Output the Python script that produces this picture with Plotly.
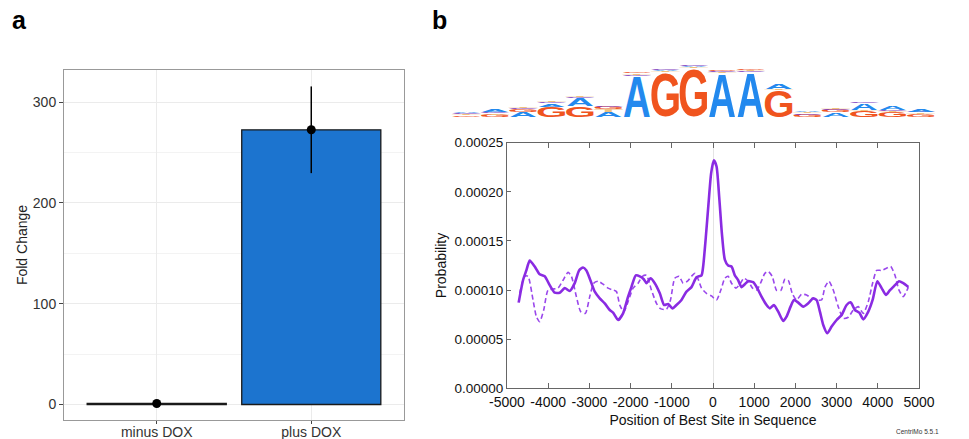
import json
import plotly.graph_objects as go

# ---------------- Panel a data ----------------
conditions = ["minus DOX", "plus DOX"]
fold_change = [1.0, 272.5]
fold_change_err = [0.4, 43.0]
a_yticks = [0, 100, 200, 300]
a_yminor = [50, 150, 250]

# ---------------- Panel b data ----------------
solid_pos = [-4717, -4611, -4530, -4449, -4328, -4206, -4085, -3964, -3842, -3721, -3599, -3478,
             -3356, -3251, -3154, -3073, -2976, -2870, -2749, -2628, -2506, -2425, -2304, -2182,
             -2061, -1980, -1874, -1777, -1680, -1615, -1518, -1413, -1291, -1186, -1089, -984,
             -887, -765, -644, -522, -401, -279, -239, -174, -109, -45, 20, 85, 150, 215, 287,
             368, 449, 530, 611, 692, 773, 854, 976, 1073, 1178, 1300, 1381, 1478, 1583, 1704,
             1785, 1883, 1964, 2069, 2190, 2312, 2433, 2514, 2595, 2676, 2773, 2879, 3000, 3121,
             3243, 3340, 3445, 3551, 3648, 3769, 3874, 3988, 4093, 4198, 4296, 4417, 4514, 4619,
             4741]
solid_prob = [0.0000872, 0.000110, 0.000120, 0.000130, 0.000124, 0.000116, 0.000114, 0.000105,
              0.0000973, 0.0000973, 0.000102, 0.0000990, 0.000107, 0.000120, 0.000123, 0.000120,
              0.000110, 0.0000984, 0.0000916, 0.0000865, 0.0000797, 0.0000770, 0.0000695,
              0.0000763, 0.0000933, 0.000103, 0.000115, 0.000114, 0.000111, 0.000107, 0.000112,
              0.000107, 0.0000967, 0.0000848, 0.0000858, 0.0000814, 0.0000848, 0.0000899,
              0.0000984, 0.000103, 0.000113, 0.000115, 0.000124, 0.000154, 0.000188, 0.000219,
              0.000232, 0.000226, 0.000195, 0.000158, 0.000131, 0.000125, 0.000124, 0.000115,
              0.000110, 0.000103, 0.000106, 0.000109, 0.000108, 0.000102, 0.0000933, 0.0000848,
              0.0000814, 0.0000848, 0.0000780, 0.0000685, 0.0000729, 0.0000831, 0.0000899,
              0.0000872, 0.0000831, 0.0000865, 0.0000916, 0.0000899, 0.0000780, 0.0000645,
              0.0000560, 0.0000628, 0.0000695, 0.0000746, 0.0000848, 0.0000875, 0.0000797,
              0.0000770, 0.0000702, 0.0000780, 0.0000899, 0.000109, 0.000102, 0.0000950,
              0.0000999, 0.000105, 0.000109, 0.000107, 0.000103]

dashed_pos = [-4692, -4571, -4490, -4368, -4287, -4206, -4109, -4004, -3883, -3761, -3640, -3518,
              -3437, -3316, -3211, -3097, -2992, -2895, -2789, -2668, -2547, -2425, -2344, -2263,
              -2166, -2061, -1939, -1818, -1713, -1615, -1494, -1372, -1275, -1130, -1032, -927,
              -822, -725, -619, -522, -441, -360, -279, -158, -36, 85, 190, 287, 368, 449, 555,
              652, 749, 854, 960, 1057, 1154, 1259, 1340, 1437, 1543, 1648, 1745, 1826, 1923,
              2028, 2150, 2271, 2393, 2514, 2636, 2717, 2814, 2919, 3040, 3162, 3283, 3405, 3526,
              3648, 3769, 3874, 3972, 4093, 4198, 4312, 4417, 4514, 4619, 4741]
dashed_prob = [0.0000967, 0.000114, 0.000114, 0.0000899, 0.0000729, 0.0000678, 0.0000797,
               0.000100, 0.000101, 0.000102, 0.000110, 0.000118, 0.000114, 0.0000933, 0.0000780,
               0.0000763, 0.0000933, 0.000107, 0.000109, 0.000106, 0.000102, 0.000100, 0.0000984,
               0.0000848, 0.0000780, 0.0000882, 0.000102, 0.000107, 0.000114, 0.000115, 0.0000999,
               0.0000865, 0.0000811, 0.0000804, 0.0000899, 0.000112, 0.000114, 0.000107, 0.000109,
               0.000114, 0.000117, 0.000111, 0.000102, 0.0000967, 0.0000940, 0.0000899, 0.000100,
               0.000112, 0.000114, 0.000107, 0.000102, 0.000106, 0.000112, 0.000109, 0.000102,
               0.000100, 0.000107, 0.000117, 0.000119, 0.000114, 0.0000997, 0.0000997, 0.000111,
               0.000110, 0.0000967, 0.0000899, 0.0000957, 0.0000950, 0.0000916, 0.0000899,
               0.0000899, 0.000103, 0.000109, 0.000100, 0.0000831, 0.0000712, 0.0000723,
               0.0000797, 0.0000831, 0.0000763, 0.0000882, 0.000107, 0.000120, 0.000120, 0.000122,
               0.000124, 0.000115, 0.000100, 0.0000933, 0.000103]

b_xticks = [-5000, -4000, -3000, -2000, -1000, 0, 1000, 2000, 3000, 4000, 5000]
b_xticklabels = ["-5000", "-4000", "-3000", "-2000", "-1000", "0",
                 "1000", "2000", "3000", "4000", "5000"]
b_yticks = [0, 0.00005, 0.0001, 0.00015, 0.0002, 0.00025]

# ---------------- Motif logo data (bottom to top, bits) ----------------
logo_positions = list(range(1, 18))
logo_letters = [
    ["G", "T", "C", "A"], ["G", "T", "C", "A"], ["A", "G", "C", "T"], ["G", "A", "C", "T"],
    ["G", "A", "C", "T"], ["A", "T", "G", "C"], ["A", "C", "T", "G"], ["G", "T", "A", "C"],
    ["G", "T", "A", "C"], ["A", "T", "C", "G"], ["A", "C", "T", "G"], ["G", "T", "A"],
    ["G", "C", "T", "A"], ["A", "G", "C", "T"], ["G", "T", "A", "C"], ["G", "T", "C", "A"],
    ["G", "T", "C", "A"],
]
logo_bits = [
    [0.06, 0.04, 0.04, 0.05], [0.07, 0.05, 0.04, 0.07], [0.16, 0.10, 0.04, 0.04],
    [0.34, 0.10, 0.06, 0.04], [0.37, 0.25, 0.05, 0.04], [0.16, 0.08, 0.07, 0.03],
    [1.37, 0.03, 0.04, 0.05], [1.50, 0.03, 0.03, 0.03], [1.62, 0.03, 0.03, 0.03],
    [1.45, 0.03, 0.03, 0.04], [1.50, 0.03, 0.03, 0.04], [0.88, 0.03, 0.18],
    [0.07, 0.05, 0.05, 0.04], [0.14, 0.08, 0.04, 0.04], [0.20, 0.04, 0.20, 0.04],
    [0.16, 0.04, 0.04, 0.14], [0.10, 0.04, 0.03, 0.10],
]
logo_colors = {"A": "#2389EE", "G": "#F0541E", "C": "#7E3DBF", "T": "#F0C27E"}

FONT = "Liberation Sans, Arial, Helvetica, sans-serif"
PURPLE = "#8A2BE2"

fig = go.Figure()

# Panel a
fig.add_trace(go.Bar(
    x=conditions, y=fold_change, width=0.9,
    marker=dict(color="#1C74CF", line=dict(color="#1a1a1a", width=1.3)),
    xaxis="x", yaxis="y", hoverinfo="skip"))
fig.add_trace(go.Scatter(
    x=conditions, y=fold_change, mode="markers",
    marker=dict(color="black", size=9),
    error_y=dict(type="data", array=fold_change_err, color="black", thickness=1.5, width=0),
    xaxis="x", yaxis="y"))

# Panel b
fig.add_trace(go.Scatter(
    x=dashed_pos, y=dashed_prob, mode="lines",
    line=dict(color="#9A47EC", width=1.6, dash="5px,3px", shape="spline", smoothing=0.6),
    xaxis="x2", yaxis="y2"))
fig.add_trace(go.Scatter(
    x=solid_pos, y=solid_prob, mode="lines",
    line=dict(color=PURPLE, width=2.6, shape="spline", smoothing=0.6),
    xaxis="x2", yaxis="y2"))

# Logo subplot (holder)
fig.add_trace(go.Scatter(x=[], y=[], xaxis="x3", yaxis="y3", hoverinfo="skip"))

annotations = []
meta = []
LOGO_F = 30
for pos, letters, bits in zip(logo_positions, logo_letters, logo_bits):
    bottom = 0.0
    for letter, h in zip(letters, bits):
        meta.append(dict(i=len(annotations), L=letter,
                         x0=pos - 0.48, x1=pos + 0.48, y0=bottom, y1=bottom + h))
        annotations.append(dict(
            x=pos, y=bottom + h / 2, xref="x3", yref="y3", text=letter, showarrow=False,
            font=dict(family=FONT, size=LOGO_F, color=logo_colors[letter], weight="bold"),
            xanchor="center", yanchor="middle", borderpad=0))
        bottom += h

annotations += [
    dict(x=10 / 969, y=1 - 19.5 / 439, xref="paper", yref="paper", text="<b>a</b>",
         showarrow=False, xanchor="left", yanchor="middle",
         font=dict(family=FONT, size=25, color="black")),
    dict(x=430 / 969, y=1 - 19.5 / 439, xref="paper", yref="paper", text="<b>b</b>",
         showarrow=False, xanchor="left", yanchor="middle",
         font=dict(family=FONT, size=25, color="black")),
    dict(x=941 / 969, y=1 - 431 / 439, xref="paper", yref="paper", text="CentriMo 5.5.1",
         showarrow=False, xanchor="right", yanchor="middle",
         font=dict(family=FONT, size=6.5, color="#333")),
]

fig.update_layout(
    width=969, height=439, autosize=False,
    margin=dict(l=0, r=0, t=0, b=0, autoexpand=False),
    paper_bgcolor="white", plot_bgcolor="white",
    showlegend=False,
    font=dict(family=FONT, size=14, color="#222"),
    annotations=annotations,
    xaxis=dict(domain=[64 / 969, 404 / 969], anchor="y", type="category", range=[-0.6, 1.6],
               automargin=False,
               showline=True, mirror=True, linecolor="#999", linewidth=1,
               showgrid=True, gridcolor="#ebebeb", gridwidth=1,
               ticks="outside", ticklen=3, tickcolor="#444", ticklabelstandoff=-4,
               tickfont=dict(size=14, color="#333"), zeroline=False, fixedrange=True),
    yaxis=dict(domain=[1 - 420 / 439, 1 - 70 / 439], anchor="x", range=[-15.4, 331.8],
               automargin=False,
               tickvals=a_yticks, showline=True, mirror=True, linecolor="#999", linewidth=1,
               showgrid=True, gridcolor="#ebebeb", gridwidth=1,
               minor=dict(tickvals=a_yminor, showgrid=True, gridcolor="#f3f3f3", gridwidth=1,
                          ticks=""),
               ticks="outside", ticklen=4, tickcolor="#444",
               tickfont=dict(size=14, color="#333"), zeroline=False,
               title=dict(text="Fold Change", font=dict(size=14, color="#222"), standoff=1),
               fixedrange=True),
    xaxis2=dict(domain=[507 / 969, 919 / 969], anchor="y2", range=[-5000, 5000],
                automargin=False,
                tickvals=b_xticks, ticktext=b_xticklabels,
                showline=True, mirror="ticks", linecolor="#666", linewidth=1,
                ticks="inside", ticklen=5, tickcolor="#666", showgrid=False,
                ticklabelstandoff=1,
                zeroline=True, zerolinecolor="#e4e4e4", zerolinewidth=1,
                tickfont=dict(size=14, color="#111"),
                title=dict(text="Position of Best Site in Sequence",
                           font=dict(size=14, color="#111"), standoff=6),
                fixedrange=True),
    yaxis2=dict(domain=[1 - 388.3 / 439, 1 - 142.7 / 439], anchor="x2", range=[0, 0.00025],
                automargin=False,
                tickvals=b_yticks, tickformat=".5f",
                showline=True, mirror=True, linecolor="#666", linewidth=1,
                ticks="inside", ticklen=4, tickcolor="#666", showgrid=False, zeroline=False,
                tickfont=dict(size=13.5, color="#111"),
                title=dict(text="Probability", font=dict(size=14, color="#111"), standoff=4),
                fixedrange=True),
    xaxis3=dict(domain=[452 / 969, 935 / 969], anchor="y3", range=[0.5, 17.5], visible=False,
                automargin=False, fixedrange=True),
    yaxis3=dict(domain=[1 - 116.7 / 439, 1 - 56.7 / 439], anchor="x3", range=[0, 2],
                automargin=False, visible=False, fixedrange=True),
)

post_js = """
document.body.style.margin = '0';
var gd = document.getElementById('{plot_id}');
var META = %s;
var INK = {A: [0.0, 0.722, 0.716, 0.0], G: [0.045, 0.73, 0.728, -0.012],
           C: [0.045, 0.68, 0.728, -0.012], T: [0.022, 0.59, 0.716, 0.0]};
function stretchLogo() {
  var fl = gd._fullLayout; var xa = fl.xaxis3, ya = fl.yaxis3;
  var cont = gd.querySelector('.svg-container').getBoundingClientRect();
  META.forEach(function (d) {
    var g = gd.querySelector('g.annotation[data-index="' + d.i + '"]');
    if (!g) return;
    var t = g.querySelector('text');
    if (!t) return;
    t.removeAttribute('transform');
    var bb = t.getBBox();
    var F = bb.height / 1.117;
    var base = bb.y + 0.905 * F;
    var k = INK[d.L];
    var L = bb.x + k[0] * F, R = bb.x + k[1] * F;
    var T = base - k[2] * F, B = base - k[3] * F;
    var m = t.getScreenCTM();
    var X0 = cont.left + xa._offset + xa.l2p(d.x0);
    var X1 = cont.left + xa._offset + xa.l2p(d.x1);
    var YT = cont.top + ya._offset + ya.l2p(d.y1);
    var YB = cont.top + ya._offset + ya.l2p(d.y0);
    var x0 = (X0 - m.e) / m.a, x1 = (X1 - m.e) / m.a;
    var yt = (YT - m.f) / m.d, yb = (YB - m.f) / m.d;
    var sx = (x1 - x0) / (R - L), sy = (yb - yt) / (B - T);
    var tx = x0 - sx * L, ty = yt - sy * T;
    t.setAttribute('transform', 'matrix(' + sx + ',0,0,' + sy + ',' + tx + ',' + ty + ')');
  });
}
stretchLogo();
gd.on('plotly_afterplot', stretchLogo);
setTimeout(stretchLogo, 300);
""" % json.dumps(meta)

fig.write_html("out.html", post_script=post_js, config={"displayModeBar": False})
